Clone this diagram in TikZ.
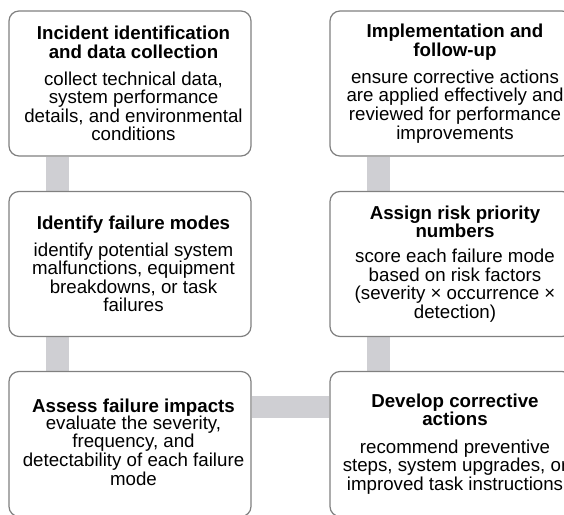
\documentclass[tikz,border=0pt]{standalone}
\usepackage{fontspec}
\setmainfont{Liberation Sans}
\usetikzlibrary{backgrounds}
\definecolor{barfill}{RGB}{207,207,211}
\definecolor{boxline}{RGB}{128,128,128}
\begin{document}
\begin{tikzpicture}[x=1pt,y=1pt,
  stage/.style={draw=boxline, line width=1.2pt, fill=white, rounded corners=10pt,
                minimum width=242pt, minimum height=145pt, inner sep=0pt},
  stagetext/.style={align=center, font=\fontsize{18.7}{18.6}\selectfont, inner sep=0pt, text=black},
  link/.style={draw=barfill, line width=23pt}]
\useasboundingbox (0,0) rectangle (564,514);
\clip (0,0) rectangle (564,514);

% process stages (left column top to bottom, then right column bottom to top)
\node[stage] (collect)  at (130,430.5) {};
\node[stage] (modes)    at (130,250)   {};
\node[stage] (impacts)  at (130,70)    {};
\node[stage] (actions)  at (451,70)    {};
\node[stage] (rpn)      at (451,250)   {};
\node[stage] (followup) at (451,430.5) {};

\node[stagetext] (t1) at ([xshift=3.5pt]collect.center)
  {\textbf{Incident identification}\\ \textbf{and data collection}\\[8.5pt]
   collect technical data,\\ system performance\\ details, and environmental\\ conditions};
\node[stagetext] (t2) at ([xshift=3.5pt]modes.center)
  {\textbf{Identify failure modes}\\[8pt]
   identify potential system\\ malfunctions, equipment\\ breakdowns, or task\\ failures};
\node[stagetext] (t3) at ([xshift=3.5pt,yshift=2pt]impacts.center)
  {\textbf{Assess failure impacts}\\[-1.5pt]
   evaluate the severity,\\ frequency, and\\ detectability of each failure\\ mode};
\node[stagetext] (t4) at ([xshift=4pt]actions.center)
  {\textbf{Develop corrective}\\ \textbf{actions}\\[8.5pt]
   recommend preventive\\ steps, system upgrades, or\\ improved task instructions};
\node[stagetext] (t5) at ([xshift=4pt]rpn.center)
  {\textbf{Assign risk priority}\\ \textbf{numbers}\\[6.5pt]
   score each failure mode\\ based on risk factors\\ (severity × occurrence ×\\ detection)};
\node[stagetext] (t6) at ([xshift=4pt]followup.center)
  {\textbf{Implementation and}\\ \textbf{follow-up}\\[8.5pt]
   ensure corrective actions\\ are applied effectively and\\ reviewed for performance\\ improvements};

% connecting bars behind the stages
\begin{scope}[on background layer]
  \draw[link] ([xshift=49.5pt]collect.south west) -- ([xshift=49.5pt]modes.north west);
  \draw[link] ([xshift=49.5pt]modes.south west)   -- ([xshift=49.5pt]impacts.north west);
  \draw[link, line width=22pt] ([yshift=-36pt]impacts.north east) -- ([yshift=-36pt]actions.north west);
  \draw[link] ([xshift=49.5pt]actions.north west) -- ([xshift=49.5pt]rpn.south west);
  \draw[link] ([xshift=49.5pt]rpn.north west)     -- ([xshift=49.5pt]followup.south west);
\end{scope}
\end{tikzpicture}
\end{document}
